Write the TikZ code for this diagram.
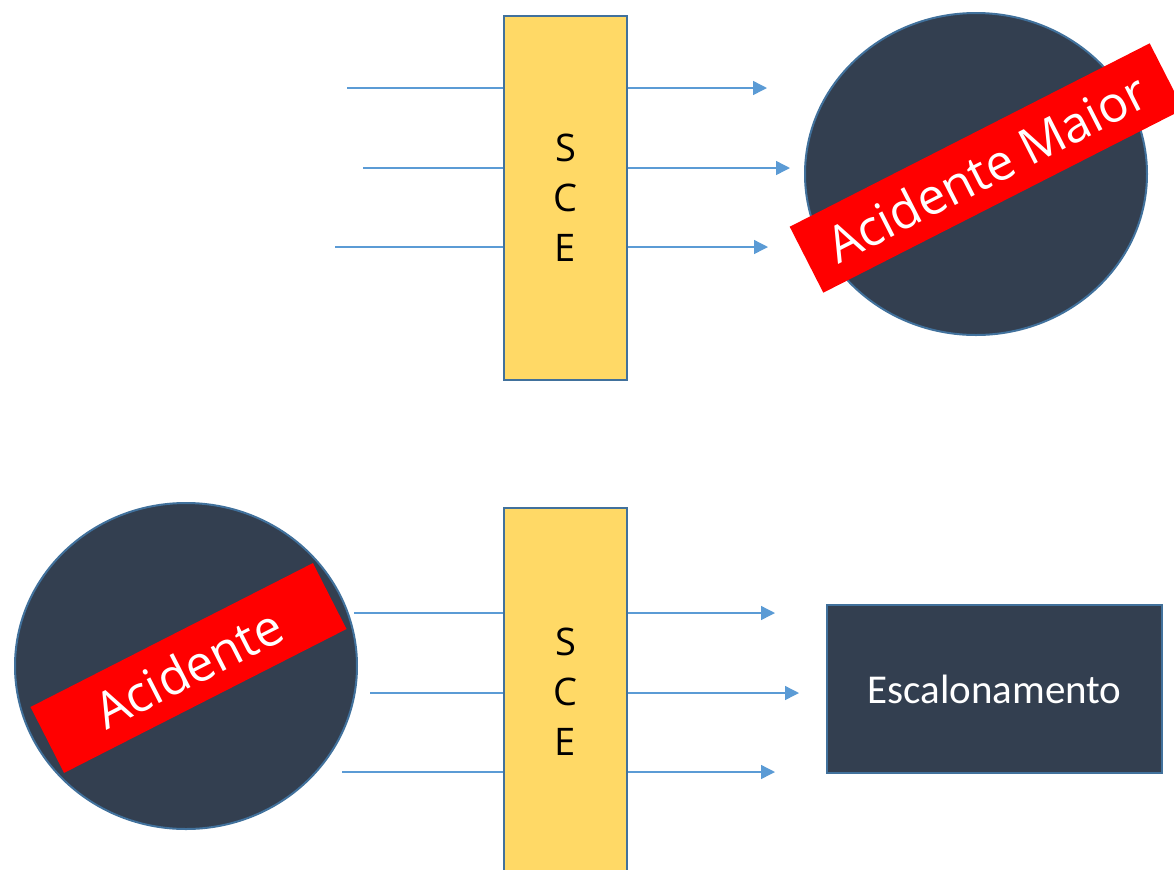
\documentclass[tikz,border=0pt]{standalone}
\usepackage{fontspec}
\setmainfont{Open Sans}
\newfontfamily\calib{Carlito}
\usetikzlibrary{arrows.meta,shapes.geometric}
\definecolor{lineblue}{HTML}{5B9BD5}
\definecolor{edgeblue}{HTML}{41719C}
\definecolor{gold}{HTML}{FFD966}
\definecolor{darkslate}{HTML}{333F50}
\definecolor{bannerred}{HTML}{FF0000}
\tikzset{
  scebox/.style={draw=edgeblue, line width=1.2pt, fill=gold, minimum width=61.5pt, inner sep=0pt, font=\fontsize{19}{25}\selectfont, align=center},
  flow/.style={draw=lineblue, line width=0.7pt},
  flowarrow/.style={flow, -{Triangle[length=7pt,width=7pt]}},
  disc/.style={draw=edgeblue, line width=1pt, fill=darkslate},
  banner/.style={fill=bannerred, text=white, inner sep=0pt, font=\fontsize{25}{25}\selectfont},
  darkbox/.style={draw=edgeblue, line width=1pt, fill=darkslate, text=white, inner sep=0pt, font=\calib\fontsize{20.5}{24}\selectfont}
}
\begin{document}
\begin{tikzpicture}[x=0.5pt,y=-0.5pt]
\useasboundingbox (0,0) rectangle (1174,869);
% top SCE
\node[scebox, minimum height=182pt] (sceA) at (565.5,198) {S\\C\\E};
% bottom SCE
\node[scebox, minimum height=182pt, anchor=north] (sceB) at (565.5,507) {};
\node[font=\fontsize{19}{25}\selectfont, align=center, inner sep=0pt] (sceBt) at (565.5,692) {S\\C\\E};
% top inputs
\coordinate (a1) at (347,88);
\coordinate (a2) at (363,168);
\coordinate (a3) at (335,247);
\draw[flow] (a1) -- (a1 -| sceA.west);
\draw[flow] (a2) -- (a2 -| sceA.west);
\draw[flow] (a3) -- (a3 -| sceA.west);
% top outputs
\coordinate (b1) at (767,88);
\coordinate (b2) at (790,168);
\coordinate (b3) at (768,247);
\draw[flowarrow] (b1 -| sceA.east) -- (b1);
\draw[flowarrow] (b2 -| sceA.east) -- (b2);
\draw[flowarrow] (b3 -| sceA.east) -- (b3);
% top disc
\node[disc, ellipse, minimum width=171pt, minimum height=161pt, inner sep=0pt] (discA) at (976,174) {};
\node[banner, rotate=27, minimum width=202pt, minimum height=37pt] (banA) at (986.5,168) {Acidente Maior};
% bottom inputs
\coordinate (c1) at (354,613);
\coordinate (c2) at (370,693);
\coordinate (c3) at (342,772);
\draw[flow] (c1) -- (c1 -| sceB.west);
\draw[flow] (c2) -- (c2 -| sceB.west);
\draw[flow] (c3) -- (c3 -| sceB.west);
% bottom outputs
\coordinate (d1) at (775,613);
\coordinate (d2) at (799,693);
\coordinate (d3) at (775,772);
\draw[flowarrow] (d1 -| sceB.east) -- (d1);
\draw[flowarrow] (d2 -| sceB.east) -- (d2);
\draw[flowarrow] (d3 -| sceB.east) -- (d3);
% bottom disc
\node[disc, ellipse, minimum width=171pt, minimum height=163pt, inner sep=0pt] (discB) at (186,666) {};
\node[banner, rotate=27, minimum width=158.5pt, minimum height=37pt] (banB) at (188.5,668) {Acidente};
% escalonamento
\node[darkbox, minimum width=167.5pt, minimum height=84pt] (esc) at (994.5,689) {Escalonamento};
\end{tikzpicture}
\end{document}
